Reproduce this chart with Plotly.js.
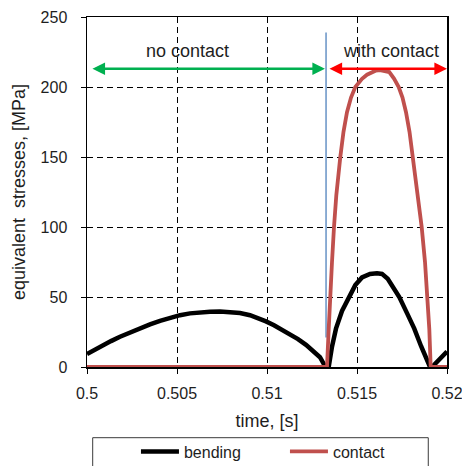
<!DOCTYPE html>
<html>
<head>
<meta charset="utf-8">
<script src="https://cdn.plot.ly/plotly-3.0.1.min.js"></script>
<style>
  html, body { margin: 0; padding: 0; background: #ffffff; }
  #chart { width: 462px; height: 466px; }
</style>
</head>
<body>
<div id="chart"></div>
<script>
// ---- data ----
const bendTime = [0.5, 0.500444, 0.500889, 0.501333, 0.501833, 0.502389, 0.502944, 0.5035, 0.504056, 0.504611, 0.505167, 0.505722, 0.506278, 0.506833,
                  0.507389, 0.507944, 0.5085, 0.509056, 0.5095, 0.509944, 0.510389, 0.510833, 0.511278, 0.511722, 0.512167, 0.512611, 0.512944, 0.51325,
                  0.513428, 0.513611, 0.513833, 0.514167, 0.514389, 0.514611, 0.514906, 0.515278, 0.515722, 0.516111, 0.516389, 0.516706, 0.517, 0.51735,
                  0.517778, 0.518183, 0.518556, 0.518928, 0.519056, 0.519167, 0.519556, 0.52];
const bendStress = [9.3, 12.6, 15.6, 18.5, 21.6, 24.8, 27.8, 30.4, 32.9, 35.1, 37, 38.3, 39.1, 39.5,
                    39.6, 39.3, 38.5, 37, 35.2, 32.6, 29.8, 26.7, 23.5, 19.9, 15.8, 11.2, 7, 0,
                    0, 14.5, 27.4, 40, 45.5, 50, 58.5, 64, 66.5, 67, 66.5, 63, 57.5, 50,
                    38.5, 27.4, 15, 3, 0, 0, 5, 11];

const contactTime = [0.5, 0.513333, 0.513428, 0.5135, 0.513611, 0.513722, 0.51385, 0.514072, 0.51425, 0.514444, 0.514667, 0.514906, 0.515083,
                     0.515278, 0.515556, 0.515833, 0.516056, 0.516278, 0.516556, 0.516794, 0.517056, 0.517317, 0.517528, 0.517722, 0.517917,
                     0.518094, 0.518406, 0.518594, 0.518778, 0.518928, 0.519017, 0.519094, 0.52];
const contactStress = [0, 0, 27, 50, 75, 100, 122.6, 150, 168, 182, 192.5, 200, 203.2,
                       205.8, 208.8, 210.7, 211.8, 212, 211.6, 210.7, 206, 200, 192.5, 182, 168,
                       150, 122.6, 100, 75, 50, 27, 0, 0];

const separatorTime = [0.51328, 0.51328];
const separatorStress = [21, 239];

const noContactSpan = [0.50022, 0.51322];
const withContactSpan = [0.51339, 0.52];
const arrowLevel = 213;
const regionLabels = ['no contact', 'with contact'];
const regionLabelTimes = [0.50561, 0.51689];
const regionLabelLevel = 226;

const xTickVals = [0.5, 0.505, 0.51, 0.515, 0.52];
const xTickText = ['0.5', '0.505', '0.51', '0.515', '0.52'];
const yTickVals = [0, 50, 100, 150, 200, 250];
const yTickText = ['0', '50', '100', '150', '200', '250'];
const seriesNames = ['bending', 'contact'];

// ---- chart ----
const FONT = 'Liberation Sans, Arial, Helvetica, sans-serif';
const TXT = '#1e1e1e';

const traces = [
  {
    x: separatorTime, y: separatorStress, mode: 'lines',
    line: { color: '#4f81bd', width: 1.3 }, showlegend: false, hoverinfo: 'skip', cliponaxis: false
  },
  {
    x: bendTime, y: bendStress, mode: 'lines', name: seriesNames[0],
    line: { color: '#000000', width: 4.5 }, cliponaxis: false
  },
  {
    x: contactTime, y: contactStress, mode: 'lines', name: seriesNames[1],
    line: { color: '#c0504d', width: 3.8 }, cliponaxis: false
  }
];

function arrow(span, color) {
  return {
    x: span[1], y: arrowLevel, ax: span[0], ay: arrowLevel,
    xref: 'x', yref: 'y', axref: 'x', ayref: 'y',
    text: '', showarrow: true, arrowside: 'end+start',
    arrowhead: 2, arrowsize: 1.05, arrowwidth: 2.4, arrowcolor: color, standoff: 0, startstandoff: 0
  };
}

const annotations = [
  arrow(noContactSpan, '#00b050'),
  arrow(withContactSpan, '#ff0000'),
  {
    x: regionLabelTimes[0], y: regionLabelLevel, xref: 'x', yref: 'y', text: regionLabels[0],
    showarrow: false, font: { family: FONT, size: 18, color: TXT }
  },
  {
    x: regionLabelTimes[1], y: regionLabelLevel, xref: 'x', yref: 'y', text: regionLabels[1],
    showarrow: false, font: { family: FONT, size: 18, color: TXT }
  }
];

const layout = {
  width: 462, height: 466,
  margin: { l: 87, r: 15, t: 17, b: 99, autoexpand: false },
  paper_bgcolor: '#ffffff', plot_bgcolor: '#ffffff',
  font: { family: FONT, size: 16, color: TXT },
  xaxis: {
    range: [0.5, 0.52], tickvals: xTickVals, ticktext: xTickText,
    showline: true, linecolor: '#000000', linewidth: 1.5, mirror: true,
    ticks: 'outside', ticklen: 5, tickwidth: 1, tickcolor: '#000000',
    showgrid: true, gridcolor: '#000000', gridwidth: 1, griddash: '6px,4px',
    zeroline: false, layer: 'below traces', ticklabelstandoff: 6, ticklabeloverflow: 'allow',
    automargin: false,
    tickfont: { family: FONT, size: 16, color: TXT },
    title: { text: 'time, [s]', font: { family: FONT, size: 18, color: TXT }, standoff: 13 }
  },
  yaxis: {
    range: [0, 250], tickvals: yTickVals, ticktext: yTickText,
    showline: true, linecolor: '#000000', linewidth: 1.5, mirror: true,
    ticks: 'outside', ticklen: 5, tickwidth: 1, tickcolor: '#000000',
    showgrid: true, gridcolor: '#000000', gridwidth: 1, griddash: '6px,4px',
    zeroline: false, layer: 'below traces', ticklabelstandoff: 10, automargin: false,
    tickfont: { family: FONT, size: 16, color: TXT },
    title: { text: 'equivalent  stresses, [MPa]', font: { family: FONT, size: 18, color: TXT }, standoff: 10 }
  },
  showlegend: true,
  legend: {
    orientation: 'h', xanchor: 'left', yanchor: 'top',
    x: 0.136, y: -0.193,
    bgcolor: 'rgba(0,0,0,0)', borderwidth: 0,
    itemwidth: 38, entrywidth: 96, entrywidthmode: 'pixels',
    font: { family: FONT, size: 16, color: TXT }
  },
  shapes: [
    {
      type: 'rect', xref: 'paper', yref: 'paper',
      x0: 0.0158, x1: 0.948, y0: -0.202, y1: -0.32,
      line: { color: '#3a3a3a', width: 1 }, fillcolor: 'rgba(0,0,0,0)', layer: 'below'
    }
  ],
  annotations: annotations
};

Plotly.newPlot('chart', traces, layout, { displayModeBar: false, staticPlot: true });
</script>
</body>
</html>
